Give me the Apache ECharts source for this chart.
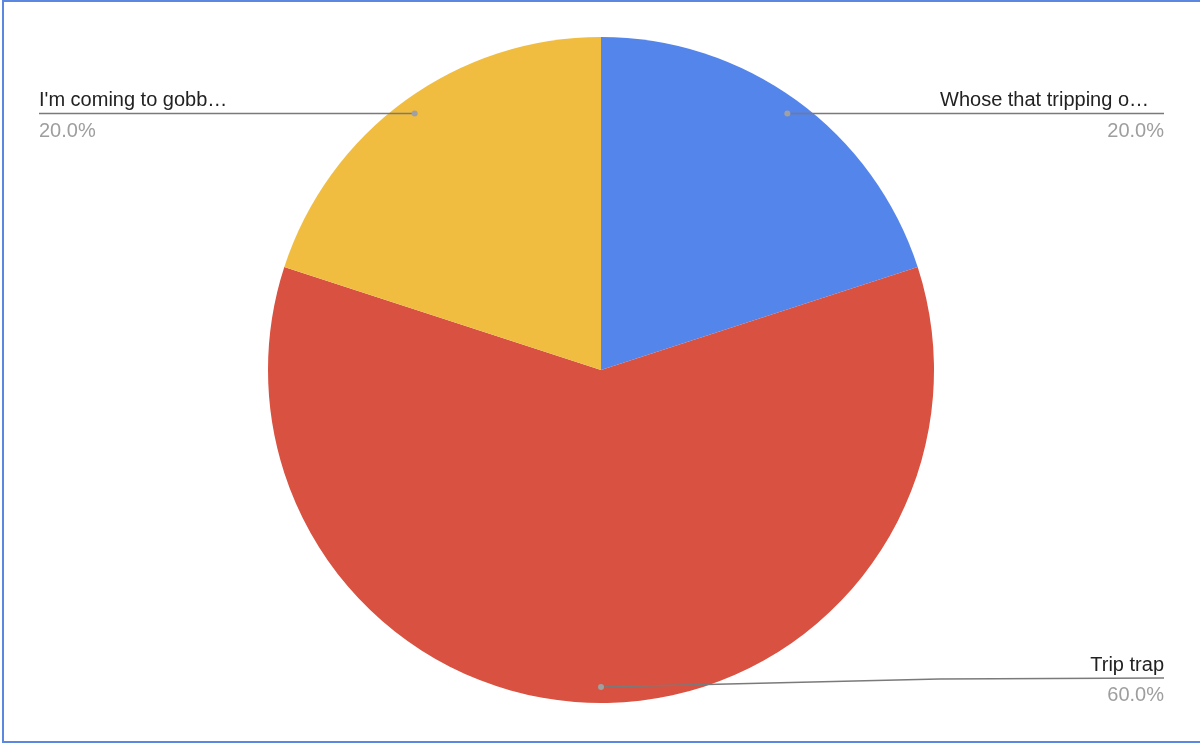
<!DOCTYPE html>
<html><head><meta charset="utf-8">
<script src="https://cdn.jsdelivr.net/npm/echarts@6/dist/echarts.min.js"></script>
<style>
html,body{margin:0;padding:0;background:#fff;}
#chart{position:absolute;left:0;top:0;width:1200px;height:743px;}
#frame{position:absolute;left:2px;top:0;width:1198px;height:743px;box-sizing:border-box;border-left:2px solid #5b87e0;border-top:2px solid #5b87e0;border-bottom:2px solid #5b87e0;pointer-events:none;}
</style></head><body>
<div id="chart"></div><div id="frame"></div>
<script>
// ---- data ----
const categories = ["Whose that tripping o\u2026", "Trip trap", "I'm coming to gobb\u2026"];
const values = [1, 3, 1];

// ---- styles ----
const colors = ['#5485EB', '#D95140', '#F0BD41'];
const labelSides = ['right', 'right', 'left'];
const namePadRight = [15, 0, 0];
const FONT = 'Liberation Sans, Arial, sans-serif';
const CENTER = [601, 370];
const RADIUS = 333;
const DOT_RATIO = 0.952;
const EDGE_L = 39, EDGE_R = 36;

const chart = echarts.init(document.getElementById('chart'), null, {renderer: 'canvas'});
const W = chart.getWidth();

function makeRich(align, pad) {
  return {
    n: {fontSize: 20, color: '#222222', fontFamily: FONT, lineHeight: 35, align: align, padding: [0, pad, 0, 0]},
    p: {fontSize: 20, color: '#9e9e9e', fontFamily: FONT, lineHeight: 26, align: align}
  };
}

function anchorOf(seriesIndex, dataIndex) {
  const L = chart.getModel().getSeriesByIndex(seriesIndex).getData().getItemLayout(dataIndex);
  const mid = (L.startAngle + L.endAngle) / 2;
  const rr = L.r * DOT_RATIO;
  return {L: L, x: L.cx + rr * Math.cos(mid), y: L.cy + rr * Math.sin(mid)};
}

function labelLayout(p) {
  const a = anchorOf(0, p.dataIndex);
  const L = a.L, px = a.x, py = a.y;
  const right = labelSides[p.dataIndex] === 'right';
  const ex = right ? W - EDGE_R : EDGE_L;
  const ly = Math.min(py, L.cy + L.r - 25);
  const bx = right ? L.cx + L.r + 5 : L.cx - L.r - 5;
  const my = ly + Math.min(1, py - ly);
  return {
    x: ex, y: ly, align: right ? 'right' : 'left', verticalAlign: 'middle',
    labelLinePoints: [[px, py], [bx, my], [ex, ly]]
  };
}

function dotLayout(p) {
  const a = anchorOf(0, p.dataIndex);
  return {x: a.x, y: a.y, align: 'center', verticalAlign: 'middle'};
}

const common = {
  type: 'pie', center: CENTER, radius: RADIUS, startAngle: 90, clockwise: true,
  avoidLabelOverlap: false, emphasis: {disabled: true}
};

chart.setOption({
  animation: false,
  backgroundColor: '#ffffff',
  series: [
    Object.assign({}, common, {
      z: 2,
      data: categories.map((c, i) => ({name: c, value: values[i], itemStyle: {color: colors[i]}})),
      itemStyle: {borderWidth: 0},
      label: {show: false},
      labelLine: {show: false}
    }),
    Object.assign({}, common, {
      z: 4, silent: true,
      data: categories.map((c, i) => ({
        name: c, value: values[i],
        label: {rich: makeRich(labelSides[i], namePadRight[i])}
      })),
      itemStyle: {color: 'rgba(0,0,0,0)', borderWidth: 0},
      label: {
        show: true, position: 'outside',
        formatter: p => '{n|' + p.name + '}\n{p|' + p.percent.toFixed(1) + '%}'
      },
      labelLine: {show: true, length: 10, length2: 10, smooth: false, lineStyle: {color: '#7a7a7a', width: 1.5}},
      labelLayout: labelLayout
    }),
    Object.assign({}, common, {
      z: 6, silent: true,
      data: categories.map((c, i) => ({name: c, value: values[i]})),
      itemStyle: {color: 'rgba(0,0,0,0)', borderWidth: 0},
      label: {
        show: true, position: 'inside', rotate: 0,
        formatter: '{d| }',
        rich: {d: {width: 6, height: 6, borderRadius: 3, backgroundColor: '#a0a0a0', fontSize: 1, lineHeight: 6}}
      },
      labelLine: {show: false},
      labelLayout: dotLayout
    })
  ]
});
</script>
</body></html>
